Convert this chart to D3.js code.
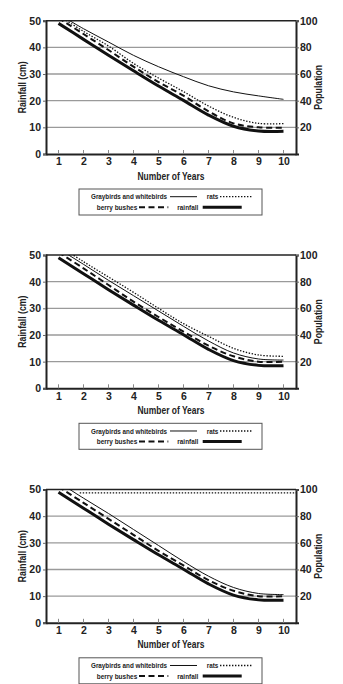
<!DOCTYPE html>
<html><head><meta charset="utf-8">
<script src="https://cdn.jsdelivr.net/npm/d3@7"></script>
<style>
html,body{margin:0;padding:0;background:#fff;}
svg{display:block;}
text{font-family:"Liberation Sans Narrow","Liberation Sans","DejaVu Sans Condensed",sans-serif;font-weight:bold;fill:#222;}
</style></head>
<body>
<svg id="c" width="343" height="684"></svg>
<script>
// ---------- data ----------
const years = [1,2,3,4,5,6,7,8,9,10];
const rainTicks = [0,10,20,30,40,50];
const popTicks = [20,40,60,80,100];
const rainfall = [49, 43, 37, 31.2, 25.5, 20.1, 14.6, 10.4, 8.6, 8.5]; // cm

// chart 1 (population)
const graybirds1 = [105, 94, 84, 74, 65.5, 58, 51.2, 46.6, 43.6, 41];
const rats1      = [104, 92, 81, 68, 57, 46.8, 36, 27.5, 23, 22.8];
const berry1     = [102, 90, 78, 65.5, 54, 43.8, 32, 23, 20, 19.8];
// chart 2
const graybirds2 = [104.7, 93, 81, 69.5, 58, 46.5, 35.5, 26.5, 22, 21.2];
const rats2      = [107, 95, 83.5, 72, 60, 48.5, 39, 30, 25, 24];
const berry2     = [102, 90, 77.5, 65, 53.5, 42.5, 32, 24, 20, 20];
// chart 3
const graybirds3 = [105.5, 93.5, 82, 70, 58, 46, 35, 26.5, 22, 21.2];
const rats3Years = [1.85, 10.5];
const rats3      = [97.5, 97.5];
const berry3     = [102, 90, 78, 66, 54, 43, 32, 24, 20, 20];

const legendLabels = ["Graybirds and whitebirds", "rats", "berry bushes", "rainfall"];

// ---------- drawing ----------
const svg = d3.select("#c");
const plotTops = [20.7, 255, 489.5];
const plotH = 133.3;
const x = d3.scaleLinear().domain([0.5, 10.5]).range([46, 296]);

const styles = {
  gray:  {w:1,   dash:null},
  rats:  {w:1.3, dash:"1.4,1.6"},
  berry: {w:2,   dash:"6,3.5"},
  rain:  {w:3,   dash:null}
};

const charts = [
  {gray: graybirds1, rats: rats1, ratsX: years, berry: berry1},
  {gray: graybirds2, rats: rats2, ratsX: years, berry: berry2},
  {gray: graybirds3, rats: rats3, ratsX: rats3Years, berry: berry3}
];

function label(sel, len) {
  return sel.attr("textLength", len).attr("lengthAdjust", "spacingAndGlyphs");
}

charts.forEach((c, i) => {
  const top = plotTops[i], bottom = top + plotH;
  const yR = d3.scaleLinear().domain([0,50]).range([bottom, top]);
  const yP = d3.scaleLinear().domain([0,100]).range([bottom, top]);
  const g = svg.append("g");

  const clipId = "clip" + i;
  svg.append("clipPath").attr("id", clipId).append("rect")
    .attr("x", x.range()[0]).attr("y", top).attr("width", x.range()[1]-x.range()[0]).attr("height", plotH);

  // gridlines
  g.selectAll(".grid").data(rainTicks.filter(t => t>0 && t<50)).join("line")
    .attr("x1", x.range()[0]).attr("x2", x.range()[1])
    .attr("y1", d => yR(d)).attr("y2", d => yR(d))
    .attr("stroke", "#9a9a9a").attr("stroke-width", 1.3);
  // top line
  g.append("line").attr("x1", x.range()[0]).attr("x2", x.range()[1])
    .attr("y1", yR(50)).attr("y2", yR(50)).attr("stroke", "#222").attr("stroke-width", 1.5);

  // left axis
  const la = g.append("g").attr("transform", `translate(${x.range()[0]},0)`)
    .call(d3.axisLeft(yR).tickValues(rainTicks).tickSize(3).tickPadding(2).tickFormat(d3.format("d")));
  la.select(".domain").attr("stroke", "#222").attr("stroke-width", 2);
  la.selectAll(".tick line").attr("stroke", "#666");
  la.selectAll("text").attr("font-size", 10.5).attr("font-family", "Liberation Sans, sans-serif").attr("fill", "#222");

  // right axis
  const ra = g.append("g").attr("transform", `translate(${x.range()[1]},0)`)
    .call(d3.axisRight(yP).tickValues(popTicks).tickSize(3).tickPadding(1).tickFormat(d3.format("d")));
  ra.select(".domain").attr("stroke", "#222").attr("stroke-width", 2);
  ra.selectAll(".tick line").attr("stroke", "#666");
  ra.selectAll("text").attr("font-size", 10.5).attr("font-family", "Liberation Sans, sans-serif").attr("fill", "#222");

  // bottom axis
  const ba = g.append("g").attr("transform", `translate(0,${bottom})`)
    .call(d3.axisBottom(x).tickValues(years).tickSize(0).tickPadding(4).tickFormat(d3.format("d")));
  ba.select(".domain").attr("stroke", "#222").attr("stroke-width", 2);
  ba.selectAll("text").attr("font-size", 10.5).attr("font-family", "Liberation Sans, sans-serif").attr("fill", "#222");
  g.selectAll(".inTick").data(years).join("line")
    .attr("x1", d => x(d)).attr("x2", d => x(d)).attr("y1", bottom).attr("y2", bottom-4)
    .attr("stroke", "#888").attr("stroke-width", 1);

  // axis titles
  label(g.append("text").attr("transform", `translate(26,${(top+bottom)/2}) rotate(-90)`)
    .attr("text-anchor", "middle").attr("font-size", 10).text("Rainfall (cm)"), 52);
  label(g.append("text").attr("transform", `translate(321.5,${(top+bottom)/2}) rotate(-90)`)
    .attr("text-anchor", "middle").attr("font-size", 10).text("Population"), 45);
  label(g.append("text").attr("x", (x.range()[0]+x.range()[1])/2).attr("y", bottom+25.5)
    .attr("text-anchor", "middle").attr("font-size", 10).text("Number of Years"), 67);

  // lines
  const lines = g.append("g").attr("clip-path", `url(#${clipId})`);
  const mk = (xs, ys, yScale) => d3.line().curve(d3.curveCatmullRom.alpha(0.5))
    .x((d, j) => x(xs[j])).y(d => yScale(d))(ys);
  const drawLine = (path, st) => lines.append("path").attr("d", path).attr("fill", "none")
    .attr("stroke", "#111").attr("stroke-width", st.w).attr("stroke-dasharray", st.dash);
  drawLine(mk(years, c.gray, yP), styles.gray);
  drawLine(mk(c.ratsX, c.rats, yP), styles.rats);
  drawLine(mk(years, c.berry, yP), styles.berry);
  drawLine(mk(years, rainfall, yR), styles.rain);

  // legend
  const lg = g.append("g").attr("transform", `translate(79,${bottom+35})`);
  lg.append("rect").attr("width", 183).attr("height", 26).attr("fill", "none")
    .attr("stroke", "#555").attr("stroke-width", 1);
  const items = [
    {label: legendLabels[0], tx: 12, len: 76, ty: 10.3, x1: 91, x2: 118, st: styles.gray},
    {label: legendLabels[1], tx: 127.7, len: 11.6, ty: 10.3, x1: 141, x2: 173, st: styles.rats},
    {label: legendLabels[2], tx: 17.7, len: 40.6, ty: 20.8, x1: 60, x2: 89.3, st: styles.berry},
    {label: legendLabels[3], tx: 98.3, len: 21, ty: 20.8, x1: 123.7, x2: 162.7, st: styles.rain}
  ];
  items.forEach(it => {
    label(lg.append("text").attr("x", it.tx).attr("y", it.ty)
      .attr("font-size", 7.8).text(it.label), it.len);
    lg.append("line").attr("x1", it.x1).attr("x2", it.x2).attr("y1", it.ty-2.6).attr("y2", it.ty-2.6)
      .attr("stroke", "#111").attr("stroke-width", it.st.w).attr("stroke-dasharray", it.st.dash);
  });
});
</script>
</body></html>
